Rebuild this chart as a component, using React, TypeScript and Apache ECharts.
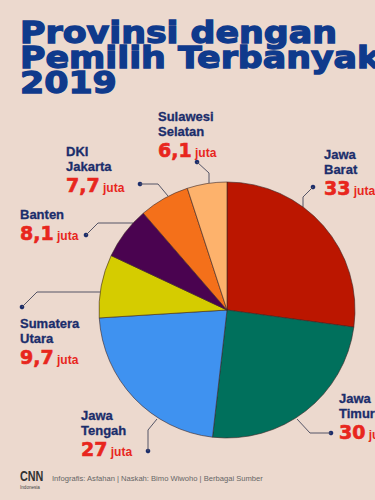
import React, { useEffect, useRef } from 'react';
import * as echarts from 'echarts';

const titleLines = ['Provinsi dengan', 'Pemilih Terbanyak', '2019'];
const categories = ['Jawa Barat', 'Jawa Timur', 'Jawa Tengah', 'Sumatera Utara', 'Banten', 'DKI Jakarta', 'Sulawesi Selatan'];
const nameLines = [['Jawa', 'Barat'], ['Jawa', 'Timur'], ['Jawa', 'Tengah'], ['Sumatera', 'Utara'], ['Banten'], ['DKI', 'Jakarta'], ['Sulawesi', 'Selatan']];
const values = [33, 30, 27, 9.7, 8.1, 7.7, 6.1];
const unit = 'juta';
const colors = ['#bb1600', '#00705c', '#3f92f0', '#d5cc00', '#4a0350', '#f4701a', '#fdb26c'];
const footerText = 'Infografis: Asfahan | Naskah: Bimo Wiwoho | Berbagai Sumber';

// label layout (top-left of each label) and leader lines: pie edge -> bend -> dot
const labelPos = [[324, 147], [339, 391], [81, 408], [20, 316], [20, 207], [66, 144], [158, 109]];
const linePts = [
  [[303, 207], [303, 197], [313, 187]],
  [[297, 419], [310, 433], [331, 433]],
  [[157, 419], [148, 430], [148, 451]],
  [[100, 292], [37, 292], [22, 307]],
  [[133, 223], [98, 223], [86, 235]],
  [[168, 196], [158, 184], [140, 184]],
  [[209, 183], [209, 173], [197, 162]],
];

const NAVY = '#1b2d6b';
const RED = '#e8261d';
const BG = '#ecd9ce';
const TITLE = '#0f3a8c';

export default function App() {
  const ref = useRef<HTMLDivElement>(null);
  useEffect(() => {
    if (!ref.current) return;
    const chart = echarts.init(ref.current, undefined, { renderer: 'svg' });
    const fmt = (v: number) => String(v).replace('.', ',');
    const option: any = {
      animation: false,
      backgroundColor: BG,
      graphic: [
        ...titleLines.map((t, i) => ({
          type: 'text',
          x: 20,
          y: 33 + i * 25,
          scaleX: 1.16,
          style: {
            text: t,
            fill: TITLE,
            stroke: TITLE,
            lineWidth: 1.3,
            font: 'bold 30px "DejaVu Sans"',
            verticalAlign: 'middle',
          },
        })),
        ...linePts.map((l) => ({
          type: 'circle',
          shape: { cx: l[2][0], cy: l[2][1], r: 2.3 },
          style: { fill: NAVY },
        })),
        {
          type: 'text',
          x: 20,
          y: 476,
          scaleX: 0.72,
          style: { text: 'CNN', fill: '#333', font: 'bold 15px "Liberation Sans"', verticalAlign: 'middle' },
        },
        {
          type: 'text',
          x: 20,
          y: 487,
          style: { text: 'Indonesia', fill: '#444', font: '4.6px "Liberation Sans"', verticalAlign: 'middle' },
        },
        {
          type: 'text',
          x: 52,
          y: 478,
          style: { text: footerText, fill: '#666', font: '7.6px "Liberation Sans"', verticalAlign: 'middle' },
        },
      ],
      series: [
        {
          type: 'pie',
          center: [227, 310],
          radius: [0, 128],
          startAngle: 90,
          clockwise: true,
          avoidLabelOverlap: false,
          itemStyle: { borderColor: '#3a2525', borderWidth: 0.6 },
          data: categories.map((c, i) => ({ name: c, value: values[i], itemStyle: { color: colors[i] } })),
          label: {
            show: true,
            position: 'outside',
            overflow: 'none',
            formatter: (p: any) => {
              const i = p.dataIndex;
              const names = nameLines[i].map((n) => `{n|${n}}`).join('\n');
              return `${names}\n{v|${fmt(values[i])}}{j| ${unit}}`;
            },
            rich: {
              n: { fontFamily: '"Liberation Sans"', fontWeight: 'bold', fontSize: 13, lineHeight: 15, color: NAVY, align: 'left', textBorderColor: NAVY, textBorderWidth: 0.3 },
              v: { fontFamily: '"DejaVu Sans"', fontWeight: 'bold', fontSize: 19, lineHeight: 21, color: RED, textBorderColor: RED, textBorderWidth: 0.6 },
              j: { fontFamily: '"Liberation Sans"', fontWeight: 'bold', fontSize: 12, lineHeight: 21, color: RED, verticalAlign: 'bottom', padding: [0, 0, 1, 0] },
            },
          },
          labelLine: { show: true, length: 10, length2: 10, lineStyle: { color: '#555566', width: 1 } },
          labelLayout: (params: any) => {
            const i = params.dataIndex;
            return {
              x: labelPos[i][0],
              y: labelPos[i][1],
              align: 'left',
              verticalAlign: 'top',
              labelLinePoints: linePts[i],
            };
          },
        },
      ],
    };
    chart.setOption(option);
    return () => chart.dispose();
  }, []);
  return <div ref={ref} style={{ position: 'fixed', left: 0, top: 0, width: 375, height: 500 }} />;
}
